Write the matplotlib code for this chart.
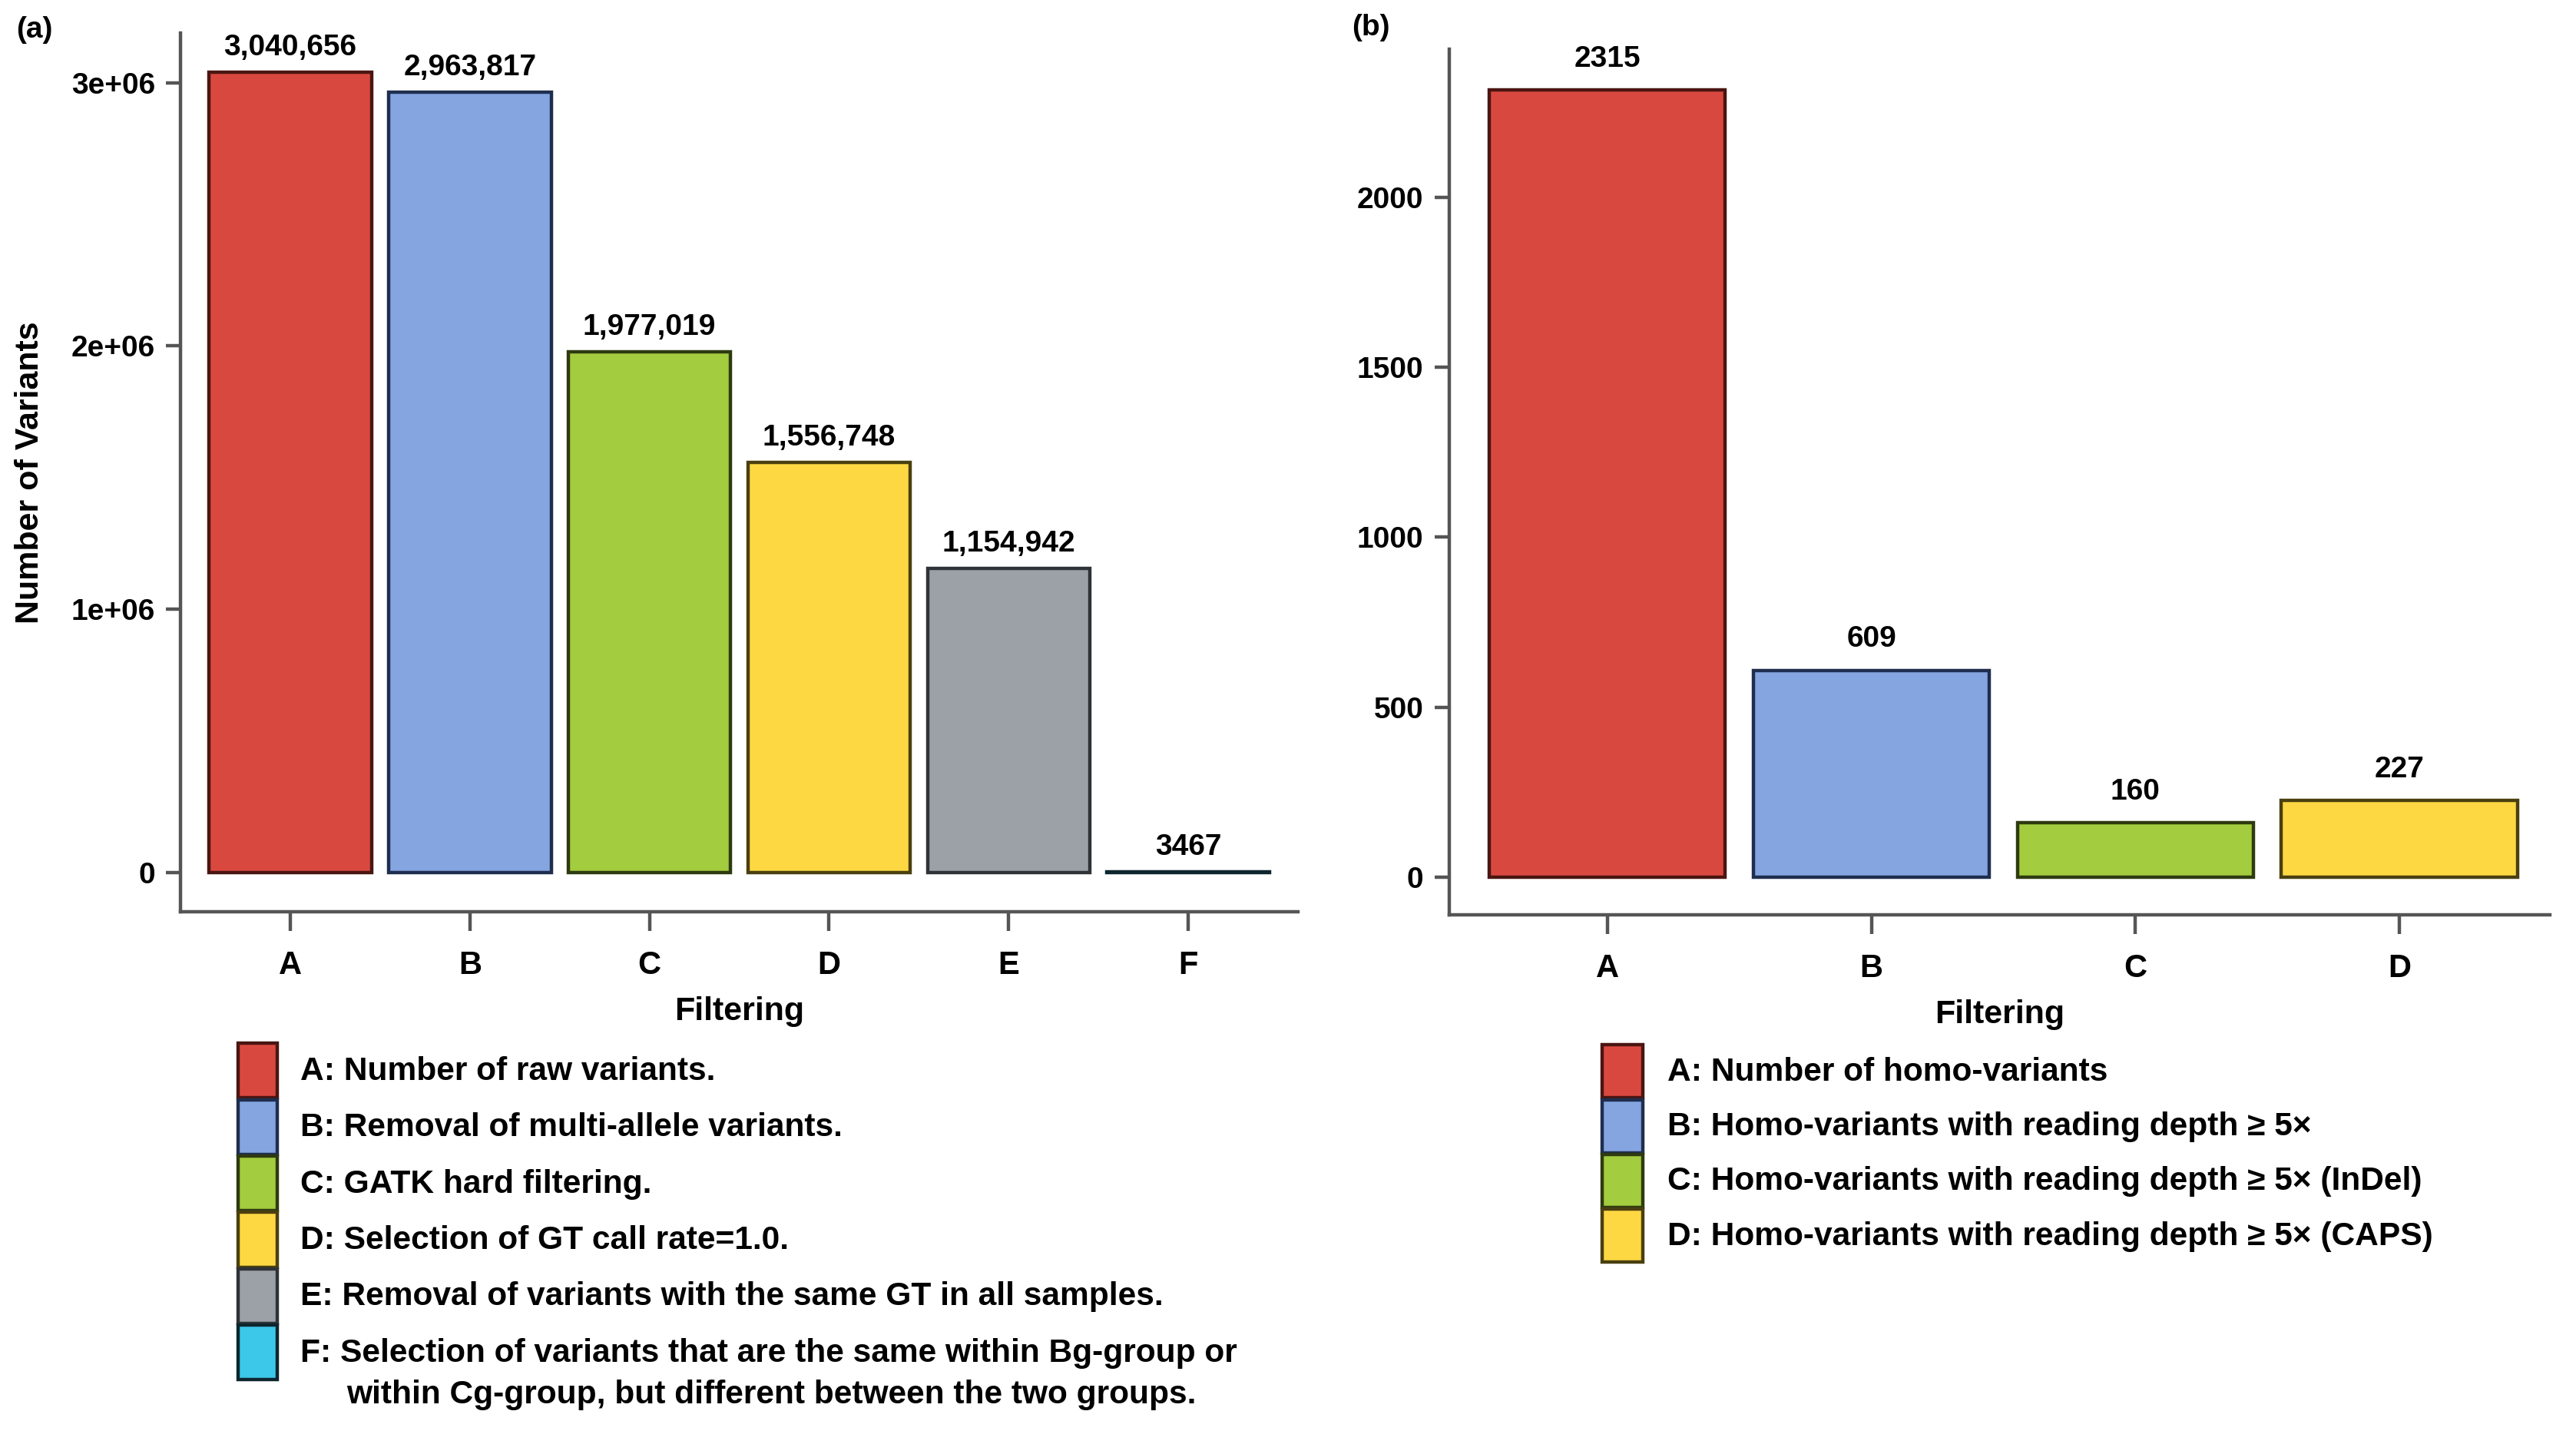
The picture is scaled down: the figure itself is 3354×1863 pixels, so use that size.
import matplotlib
matplotlib.use('Agg')
import matplotlib.pyplot as plt
from matplotlib.patches import Rectangle

plt.rcParams['font.family'] = ['Liberation Sans Narrow', 'Liberation Sans', 'DejaVu Sans']
plt.rcParams['font.weight'] = 'bold'

# panel (a) data
steps_a = ['A', 'B', 'C', 'D', 'E', 'F']
counts_a = [3040656, 2963817, 1977019, 1556748, 1154942, 3467]
value_labels_a = ['3,040,656', '2,963,817', '1,977,019', '1,556,748', '1,154,942', '3467']
legend_a = ['A: Number of raw variants.',
            'B: Removal of multi-allele variants.',
            'C: GATK hard filtering.',
            'D: Selection of GT call rate=1.0.',
            'E: Removal of variants with the same GT in all samples.',
            'F: Selection of variants that are the same within Bg-group or']
legend_a_extra = 'within Cg-group, but different between the two groups.'

# panel (b) data
steps_b = ['A', 'B', 'C', 'D']
counts_b = [2315, 609, 160, 227]
legend_b = ['A: Number of homo-variants',
            'B: Homo-variants with reading depth \u2265 5\u00d7',
            'C: Homo-variants with reading depth \u2265 5\u00d7 (InDel)',
            'D: Homo-variants with reading depth \u2265 5\u00d7 (CAPS)']

colors = ['#D9483F', '#84A5E0', '#A3CC3E', '#FDD843', '#9BA1A7', '#3CC8E8']
edges = ['#4A1512', '#1F2E4F', '#2E3A10', '#4A3F10', '#2F3236', '#0E262E']

FS = 14      # ticks and value labels
FS_LAB = 15.5  # axis titles
FS_LEG = 15.3  # legend text
AXC = '#555555'


def style_axes(ax):
    for s in ['top', 'right']:
        ax.spines[s].set_visible(False)
    for s in ['left', 'bottom']:
        ax.spines[s].set_color(AXC)
        ax.spines[s].set_linewidth(1.6)
    ax.tick_params(axis='both', colors=AXC, width=1.6, length=7, labelcolor='black',
                   labelsize=FS, pad=5)
    ax.tick_params(axis='x', length=9, pad=9, labelsize=FS + 1)
    for lab in ax.get_xticklabels() + ax.get_yticklabels():
        lab.set_fontweight('bold')


fig = plt.figure(figsize=(16.77, 9.315), dpi=200)
W, H = 1568.0, 871.0

# ---- panel (a)
ax1 = fig.add_axes([110 / W, 1 - 555 / H, 680 / W, 535 / H])
x1 = list(range(len(steps_a)))
ax1.bar(x1, counts_a, width=0.905, color=colors, edgecolor=edges, linewidth=1.6)
for xi, v, t in zip(x1, counts_a, value_labels_a):
    ax1.annotate(t, (xi, v), xytext=(0, 5), textcoords='offset points',
                 ha='center', va='bottom', fontsize=FS, fontweight='bold')
ax1.set_xlim(-0.61, 5.61)
ax1.set_ylim(-150000, 3190000)
ax1.set_yticks([0, 1e6, 2e6, 3e6])
ax1.set_yticklabels(['0', '1e+06', '2e+06', '3e+06'])
ax1.set_xticks(x1)
ax1.set_xticklabels(steps_a)
ax1.set_xlabel('Filtering', fontsize=FS_LAB, fontweight='bold', labelpad=7)
ax1.set_ylabel('Number of Variants', fontsize=FS_LAB, fontweight='bold', labelpad=12)
style_axes(ax1)
fig.text(10 / W, 1 - 18 / H, '(a)', fontsize=FS, fontweight='bold', va='center')

# ---- panel (b)
ax2 = fig.add_axes([882 / W, 1 - 557 / H, 670 / W, 527 / H])
x2 = list(range(len(steps_b)))
ax2.bar(x2, counts_b, width=0.894, color=colors[:4], edgecolor=edges[:4], linewidth=1.6)
for xi, v in zip(x2, counts_b):
    ax2.annotate(str(v), (xi, v), xytext=(0, 8), textcoords='offset points',
                 ha='center', va='bottom', fontsize=FS, fontweight='bold')
ax2.set_xlim(-0.6, 3.57)
ax2.set_ylim(-111, 2435)
ax2.set_yticks([0, 500, 1000, 1500, 2000])
ax2.set_xticks(x2)
ax2.set_xticklabels(steps_b)
ax2.set_xlabel('Filtering', fontsize=FS_LAB, fontweight='bold', labelpad=7)
style_axes(ax2)
fig.text(823 / W, 1 - 17 / H, '(b)', fontsize=FS, fontweight='bold', va='center')


# ---- legends: stacked colour boxes with labels
def draw_legend(x0, top, step, bw, labels, tx):
    for i, lab in enumerate(labels):
        y_top = top + i * step
        fig.patches.append(Rectangle((x0 / W, 1 - (y_top + step - 1) / H), bw / W, (step - 1) / H,
                                     transform=fig.transFigure, facecolor=colors[i],
                                     edgecolor=edges[i], linewidth=1.6))
        fig.text(tx / W, 1 - (y_top + step / 2) / H, lab, fontsize=FS_LEG,
                 fontweight='bold', va='center', ha='left')


draw_legend(145, 635, 34.3, 24, legend_a, 183)
fig.text(211 / W, 1 - 849 / H, legend_a_extra, fontsize=FS_LEG, fontweight='bold', va='center')
draw_legend(975, 636, 33.3, 25, legend_b, 1015)

fig.savefig('out.png', dpi=200, facecolor='white')
